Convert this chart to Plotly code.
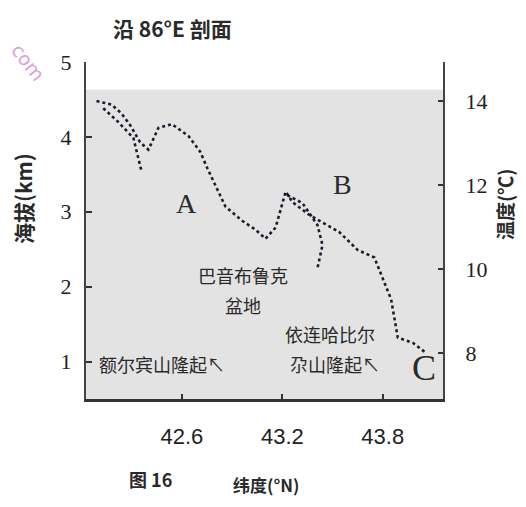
import plotly.graph_objects as go

# ---------------- data ----------------
# 地形剖面（海拔, km）
lat_elev = [42.09, 42.18, 42.24, 42.29, 42.35, 42.40, 42.46, 42.54, 42.64, 42.71,
            42.75, 42.86, 42.96, 43.04, 43.10, 43.16, 43.22, 43.26, 43.36, 43.54,
            43.65, 43.75, 43.85, 43.89, 43.98, 44.05]
elev_km = [4.48, 4.43, 4.31, 4.16, 3.93, 3.83, 4.12, 4.17, 4.01, 3.80,
           3.59, 3.07, 2.88, 2.76, 2.64, 2.79, 3.27, 3.13, 2.96, 2.73,
           2.49, 2.39, 1.83, 1.32, 1.25, 1.13]

# 温度（℃）
lat_temp = [42.13, 42.22, 42.31, 42.36, None, 43.23, 43.32, 43.41, 43.44, 43.41]
temp_c = [13.83, 13.50, 13.12, 12.31, None, 11.76, 11.57, 11.05, 10.57, 10.02]

shade_top_km = 4.63
x_ticks = [42.6, 43.2, 43.8]
x_ticktext = ["42.6", "43.2", "43.8"]
y_ticks = [1, 2, 3, 4, 5]
t_ticks = [8, 10, 12, 14]

# ---------------- figure ----------------
OFF = 8  # default page body margin
W, H = 526 - OFF, 507 - 2 * OFF
# plot area in page pixels
PL, PR, PT, PB = 86, 443, 62, 399
L, R, T, B = PL - OFF, PR - OFF, PT - OFF, PB - OFF


def px(x):
    return (x - PL) / (PR - PL)


def py(y):
    return (PB - y) / (PB - PT)


fig = go.Figure()

fig.add_trace(go.Scatter(
    x=lat_elev, y=elev_km, mode="lines", name="海拔",
    line=dict(color="#1c1c2c", width=2.6, dash="dot"), showlegend=False))

fig.add_trace(go.Scatter(
    x=lat_temp, y=temp_c, mode="lines", name="温度", yaxis="y2",
    connectgaps=False,
    line=dict(color="#1c1c2c", width=2.6, dash="dot"), showlegend=False))

fig.add_shape(type="rect", xref="x domain", yref="y", x0=0, x1=1,
              y0=0.5, y1=shade_top_km, fillcolor="#e3e3e3",
              line=dict(width=0), layer="below")

tick_font = dict(family="Liberation Serif", size=22, color="#222")

fig.update_layout(
    width=W, height=H,
    margin=dict(l=L, r=W - R, t=T, b=H - B),
    paper_bgcolor="white", plot_bgcolor="white",
    xaxis=dict(range=[42.027, 44.16], tickvals=x_ticks, ticktext=x_ticktext,
               ticks="inside", ticklen=5, tickwidth=2, tickcolor="#333",
               showline=True, linewidth=3, linecolor="#333",
               showgrid=False, zeroline=False,
               tickfont=dict(family="Liberation Sans Narrow, Liberation Sans", size=22, color="#222"),
               ticklabelstandoff=16),
    yaxis=dict(range=[0.5, 5], tickvals=y_ticks, ticks="inside", ticklen=6,
               tickwidth=2, tickcolor="#333", showline=True, linewidth=2,
               linecolor="#444", showgrid=False, zeroline=False,
               tickfont=tick_font, ticklabelstandoff=8),
    yaxis2=dict(range=[6.905, 14.93], tickvals=t_ticks, overlaying="y",
                side="right", ticks="inside", ticklen=5, tickwidth=2,
                tickcolor="#333", showline=True, linewidth=2, linecolor="#444",
                showgrid=False, zeroline=False, tickfont=tick_font,
                ticklabelstandoff=16),
)

cjk = "Noto Sans CJK SC"
anns = [
    # title
    dict(text="<b>沿 86°E 剖面</b>", x=px(172), y=py(28), size=21, angle=0, fam=cjk),
    # axis titles
    dict(text="<b>海拔(km)</b>", x=px(23), y=py(198), size=21, angle=-90, fam=cjk),
    dict(text="<b>温度(℃)</b>", x=px(504), y=py(205), size=19, angle=-90, fam=cjk),
    dict(text="<b>纬度(°N)</b>", x=px(266), y=py(484), size=17, angle=0, fam=cjk),
    dict(text="<b>图 16</b>", x=px(150), y=py(479), size=18, angle=0, fam=cjk),
    # letters
    dict(text="A", x=px(186), y=py(203), size=28, angle=0, fam="Liberation Serif"),
    dict(text="B", x=px(342), y=py(184), size=28, angle=0, fam="Liberation Serif"),
    dict(text="C", x=px(424), y=py(368), size=36, angle=0, fam="Liberation Serif"),
    # place names
    dict(text="巴音布鲁克", x=px(243), y=py(275), size=18, angle=0, fam=cjk),
    dict(text="盆地", x=px(243), y=py(305), size=18, angle=0, fam=cjk),
    dict(text="依连哈比尔", x=px(330), y=py(334), size=18, angle=0, fam=cjk),
    dict(text="尕山隆起↖", x=px(335), y=py(364), size=18, angle=0, fam=cjk),
    dict(text="额尔宾山隆起↖", x=px(162), y=py(364), size=18, angle=0, fam=cjk),
    # watermark
    dict(text="com", x=px(28), y=py(62), size=19, angle=52, fam="DejaVu Sans",
         color="#d9a3d6"),
]
for a in anns:
    fig.add_annotation(
        text=a["text"], x=a["x"], y=a["y"], xref="paper", yref="paper",
        showarrow=False, textangle=a["angle"], xanchor="center", yanchor="middle",
        font=dict(family=a["fam"], size=a["size"], color=a.get("color", "#2a2a2a")))

fig.write_html("out.html")
